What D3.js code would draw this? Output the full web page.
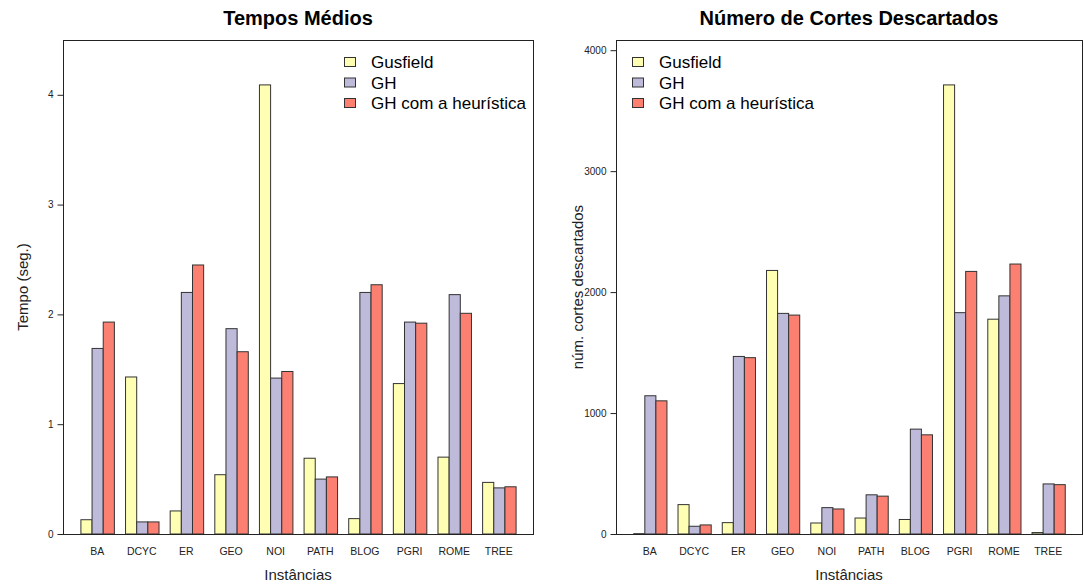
<!DOCTYPE html>
<html>
<head>
<meta charset="utf-8">
<script src="https://cdn.jsdelivr.net/npm/d3@7"></script>
<style>
  body { margin: 0; background: #fff; }
  svg { font-family: "Liberation Sans", Arial, Helvetica, sans-serif; }
</style>
</head>
<body>
<div class="chart"></div>
<script>
var categories = ['BA', 'DCYC', 'ER', 'GEO', 'NOI', 'PATH', 'BLOG', 'PGRI', 'ROME', 'TREE'];
var seriesNames = ['Gusfield', 'GH', 'GH com a heurística'];
var colors = ['#FFFFB3', '#BEBADA', '#FB8072'];

// tempos medios (seg.)
var tempoGusfield = [0.13, 1.43, 0.21, 0.54, 4.09, 0.69, 0.14, 1.37, 0.70, 0.47];
var tempoGH       = [1.69, 0.11, 2.20, 1.87, 1.42, 0.50, 2.20, 1.93, 2.18, 0.42];
var tempoHeur     = [1.93, 0.11, 2.45, 1.66, 1.48, 0.52, 2.27, 1.92, 2.01, 0.43];

// cortes descartados
var cortesGusfield = [3, 243, 94, 2179, 91, 132, 120, 3713, 1776, 12];
var cortesGH       = [1143, 64, 1468, 1824, 218, 324, 867, 1830, 1969, 414];
var cortesHeur     = [1101, 75, 1458, 1810, 207, 313, 820, 2171, 2232, 408];

var tempoTicks = [0, 1, 2, 3, 4];
var cortesTicks = [0, 1000, 2000, 3000, 4000];

var svg = d3.select('.chart')
  .append('svg')
    .attr('width', 1084)
    .attr('height', 584);

function drawPanel(opts) {
  var left = opts.left, right = opts.right, top = 40, bottom = 534;
  var series = opts.series;
  var maxV = d3.max(series, s => d3.max(s));

  var x0 = d3.scaleBand()
    .domain(categories)
    .range([left, right])
    .paddingInner(0.25)
    .paddingOuter(0.39);
  var x1 = d3.scaleBand()
    .domain(d3.range(series.length))
    .range([0, x0.bandwidth()]);
  var y = d3.scaleLinear()
    .domain([0, maxV * 1.1])
    .range([bottom, top]);

  var g = svg.append('g');

  // bars
  var groups = g.selectAll('.grp')
    .data(categories)
    .enter()
    .append('g')
      .attr('class', 'grp')
      .attr('transform', d => 'translate(' + x0(d) + ',0)');

  groups.selectAll('rect')
    .data((d, i) => series.map((s, k) => ({ k: k, v: s[i] })))
    .enter()
    .append('rect')
      .attr('x', d => x1(d.k) + 0.5)
      .attr('y', d => y(d.v))
      .attr('width', x1.bandwidth())
      .attr('height', d => y(0) - y(d.v))
      .style('fill', d => colors[d.k])
      .style('stroke', '#333')
      .style('stroke-width', 1);

  // box
  g.append('rect')
    .attr('x', left + 0.5)
    .attr('y', top + 0.5)
    .attr('width', right - left)
    .attr('height', bottom - top)
    .style('fill', 'none')
    .style('stroke', '#222')
    .style('stroke-width', 1);

  // y axis
  var yAxis = d3.axisLeft(y)
    .tickValues(opts.ticks)
    .tickSize(6)
    .tickPadding(4)
    .tickFormat(d3.format('d'));
  var ya = g.append('g')
    .attr('transform', 'translate(' + (left + 0.5) + ',0)')
    .call(yAxis);
  ya.select('.domain').remove();
  ya.selectAll('text').style('font-size', '10px').style('fill', '#222');
  ya.selectAll('line').style('stroke', '#222');

  // x labels
  var xAxis = d3.axisBottom(x0).tickSize(0).tickPadding(14);
  var xa = g.append('g')
    .attr('transform', 'translate(0,' + bottom + ')')
    .call(xAxis);
  xa.select('.domain').remove();
  xa.selectAll('text').style('font-size', '10.5px').style('fill', '#222');

  // titles
  g.append('text')
    .attr('x', (left + right) / 2)
    .attr('y', 25)
    .attr('text-anchor', 'middle')
    .style('font-size', '20px')
    .style('font-weight', 'bold')
    .text(opts.title);

  g.append('text')
    .attr('x', (left + right) / 2)
    .attr('y', 580)
    .attr('text-anchor', 'middle')
    .style('font-size', '15px')
    .style('fill', '#222')
    .text('Instâncias');

  g.append('text')
    .attr('transform', 'translate(' + opts.ylabX + ',' + ((top + bottom) / 2) + ') rotate(-90)')
    .attr('text-anchor', 'middle')
    .style('font-size', '15px')
    .style('fill', '#222')
    .text(opts.ylab);

  // legend
  var lg = g.selectAll('.leg')
    .data(seriesNames)
    .enter()
    .append('g')
      .attr('class', 'leg')
      .attr('transform', (d, i) => 'translate(' + opts.legX + ',' + (62 + i * 20.5) + ')');
  lg.append('rect')
    .attr('x', 0.5)
    .attr('y', -4.5)
    .attr('width', 11)
    .attr('height', 9)
    .style('fill', (d, i) => colors[i])
    .style('stroke', '#333');
  lg.append('text')
    .attr('x', 27)
    .attr('y', 6)
    .style('font-size', '17px')
    .text(d => d);
}

drawPanel({
  left: 63, right: 533,
  series: [tempoGusfield, tempoGH, tempoHeur],
  ticks: tempoTicks,
  title: 'Tempos Médios',
  ylab: 'Tempo (seg.)',
  ylabX: 28,
  legX: 344
});

drawPanel({
  left: 616, right: 1082,
  series: [cortesGusfield, cortesGH, cortesHeur],
  ticks: cortesTicks,
  title: 'Número de Cortes Descartados',
  ylab: 'núm. cortes descartados',
  ylabX: 583,
  legX: 632
});
</script>
</body>
</html>
